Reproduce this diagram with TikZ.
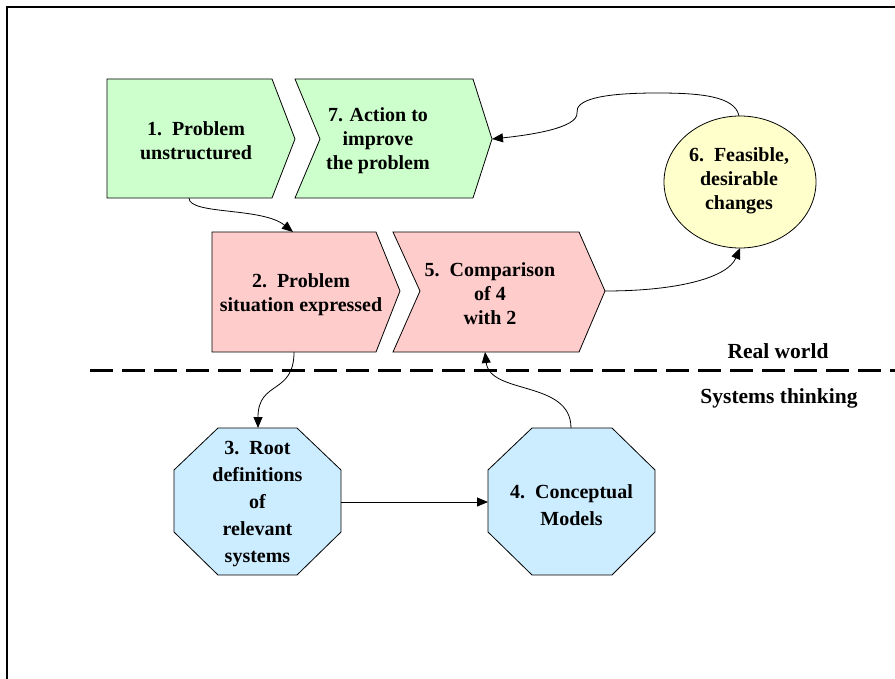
\documentclass[tikz,border=0pt]{standalone}
\usepackage{fontspec}
\setmainfont{Liberation Serif}
\usetikzlibrary{arrows.meta}
\definecolor{cgreen}{HTML}{CCFFCC}
\definecolor{cpink}{HTML}{FFCCCC}
\definecolor{cyellow}{HTML}{FFFFCC}
\definecolor{cblue}{HTML}{CCECFF}
\tikzset{
  shapebox/.style={draw=black, line width=0.8pt, line join=miter},
  lbl/.style={align=center, font=\bfseries\fontsize{20}{24}\selectfont, inner sep=0pt},
  lbltall/.style={align=center, font=\bfseries\fontsize{20}{27}\selectfont, inner sep=0pt},
  sidelbl/.style={font=\bfseries\fontsize{21.5}{24}\selectfont, inner sep=0pt},
  conn/.style={draw=black, line width=0.8pt, -{Triangle[length=11pt,width=9pt]}},
  divider/.style={line width=3pt, dash pattern=on 23pt off 9pt},
}
\begin{document}
\begin{tikzpicture}[x=1pt,y=-1pt]
\useasboundingbox (0,0) rectangle (895,679);
% frame
\draw[line width=2.5pt] (7,679) -- (7,7) -- (895,7);
% shape 1
\draw[shapebox, fill=cgreen] (107,79) -- (272,79) -- (295,139) -- (272,198) -- (107,198) -- cycle;
\node[lbl] (n1) at (196,141) {1.\ \ Problem\\unstructured};
% shape 7
\draw[shapebox, fill=cgreen] (295,79) -- (473,79) -- (492,139) -- (473,198) -- (295,198) -- (320,139) -- cycle;
\node[lbl] (n7) at (378,141) {7. Action to\\improve\\the problem};
% shape 2
\draw[shapebox, fill=cpink] (212,232) -- (376,232) -- (400,291) -- (376,352) -- (212,352) -- cycle;
\node[lbl] (n2) at (301,295) {2.\ \ Problem\\situation expressed};
% shape 5
\draw[shapebox, fill=cpink] (393,232) -- (579,232) -- (605,291) -- (579,352) -- (393,352) -- (420,291) -- cycle;
\node[lbl] (n5) at (490,294) {5.\ \ Comparison\\of 4\\with 2};
% ellipse 6
\draw[shapebox, fill=cyellow] (740,182) ellipse [x radius=76, y radius=66];
\node[lbl] (n6) at (739,181) {6.\ \ Feasible,\\desirable\\changes};
% octagon 3
\draw[shapebox, fill=cblue] (218,428) -- (297,428) -- (341,470) -- (341,532) -- (297,575) -- (218,575) -- (174,532) -- (174,470) -- cycle;
\node[lbltall] (n3) at (257.5,504) {3.\ \ Root\\definitions\\of\\relevant\\systems};
% octagon 4
\draw[shapebox, fill=cblue] (532,428) -- (612,428) -- (655,470) -- (655,532) -- (612,575) -- (532,575) -- (488,532) -- (488,470) -- cycle;
\node[lbltall] (n4) at (571.5,505) {4.\ \ Conceptual\\Models};
% divider
\coordinate (dL) at (90,370);
\coordinate (dR) at (895,370);
\draw[divider] (dL) -- (dR);
\node[sidelbl] (rw) at (778,351) {Real world};
\node[sidelbl] (st) at (779,398) {Systems thinking};
% anchor coordinates
\coordinate (c1b) at (189,198);
\coordinate (c2t) at (293,232);
\coordinate (c2b) at (294,352);
\coordinate (c3t) at (258,428);
\coordinate (c3r) at (341,502);
\coordinate (c4l) at (488,502);
\coordinate (c4t) at (571,428);
\coordinate (c5b) at (485,352);
\coordinate (c5r) at (605,291);
\coordinate (c6b) at (740,248);
\coordinate (c6t) at (739,116);
\coordinate (c7r) at (492,139);
% connectors
\draw[conn] (c1b) .. controls (189,215) and (262,207) .. (c2t);
\draw[conn] (c2b) .. controls (294,395) and (258,380) .. (c3t);
\draw[conn] (c3r) -- (c4l);
\draw[conn] (c4t) .. controls (571,380) and (490,395) .. (c5b);
\draw[conn] (c5r) .. controls (680,291) and (728,277) .. (c6b);
\draw[conn] (c6t) .. controls (735,96) and (700,93) .. (657,93) .. controls (600,93) and (575,100) .. (577,113) .. controls (578,128) and (530,135) .. (c7r);
\end{tikzpicture}
\end{document}
